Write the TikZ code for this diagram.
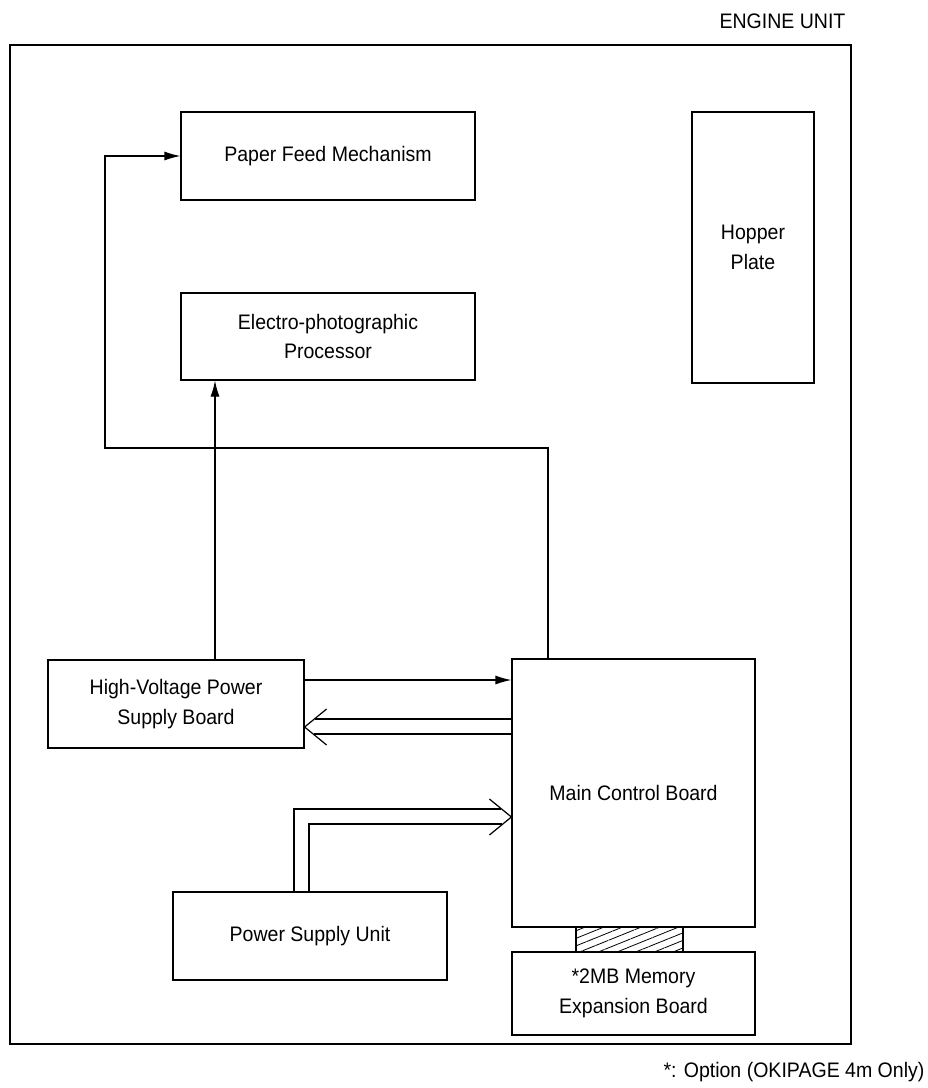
\documentclass[tikz,border=0pt]{standalone}
\usepackage{fontspec}
\setmainfont[FakeStretch=0.93]{Liberation Sans}
\usetikzlibrary{arrows.meta,calc,patterns.meta}
\newcommand{\boxfont}{\fontsize{21}{29.5}\selectfont}

\begin{document}
\begin{tikzpicture}[x=1pt, y=-1pt, line width=1.2pt,
	every node/.style={draw=black, line width=1.2pt, font=\boxfont, align=center, inner sep=0pt},
	arr/.style={-{Latex[length=16pt,width=9pt]}}]
				\useasboundingbox (0,0) rectangle (928,1088);
				
				% engine unit frame
				\draw (10,45) rectangle (851,1044);
				\node[draw=none, anchor=east] (title) at (846,21){ENGINE UNIT};
				
				\node[minimum width=294pt, minimum height=88pt] (pfm) at (328,156){Paper Feed Mechanism};
				\node[minimum width=294pt, minimum height=87pt] (epp) at (328,336.5){Electro-photographic\\Processor};
				\node[minimum width=122pt, minimum height=271pt] (hop) at (753,247.5){Hopper\\Plate};
				\node[minimum width=256pt, minimum height=88pt] (hv) at (176,704){High-Voltage Power\\Supply Board};
				\node[minimum width=243pt, minimum height=268pt] (mcb) at (633.5,793){Main Control Board};
				\node[minimum width=107pt, minimum height=25pt, pattern={Lines[angle=22,distance=7pt,line width=0.8pt]}] (conn) at (629.5,939.5){};
				\node[minimum width=243pt, minimum height=83pt] (mem) at (633.5,993.5){*2MB Memory\\Expansion Board};
				\node[minimum width=274pt, minimum height=88pt] (psu) at (310,936){Power Supply Unit};
				
				\node[draw=none, anchor=east] (note) at (925,1072){*: Option (OKIPAGE 4m Only)};
				
				% bends and levels
				\coordinate (b1) at (548,448);
				\coordinate (b2) at (105,448);
				\coordinate (hvup) at (215,0);
				\coordinate (sig) at (0,680);
				\coordinate (r1) at (0,719);
				\coordinate (r2) at (0,734);
				\coordinate (rt) at (0,727);
				\coordinate (p1) at (294,809);
				\coordinate (p2) at (309,824);
				\coordinate (pt) at (0,817);
				
				\draw[arr] (mcb.north -| b1) -- (b1) -- (b2) |- (pfm.west);
				\draw[arr] (hv.north -| hvup) -- (epp.south -| hvup);
				\draw[arr] (hv.east |- sig) -- (mcb.west |- sig);
				
				% double line: main control -> high voltage
				\draw (mcb.west |- r1) -- ($(hv.east |- r1)+(10,0)$);
				\draw (mcb.west |- r2) -- ($(hv.east |- r2)+(9,0)$);
				\draw ($(hv.east |- rt)+(22,-18)$) -- (hv.east |- rt) -- ++(22,18);
				
				% double line: power supply -> main control
				\draw (psu.north -| p1) -- (p1) -- ($(mcb.west |- p1)+(-10,0)$);
				\draw (psu.north -| p2) -- (p2) -- ($(mcb.west |- p2)+(-9,0)$);
				\draw ($(mcb.west |- pt)+(-22,-18)$) -- (mcb.west |- pt) -- ++(-22,18);
				\end{tikzpicture}
\end{document}
